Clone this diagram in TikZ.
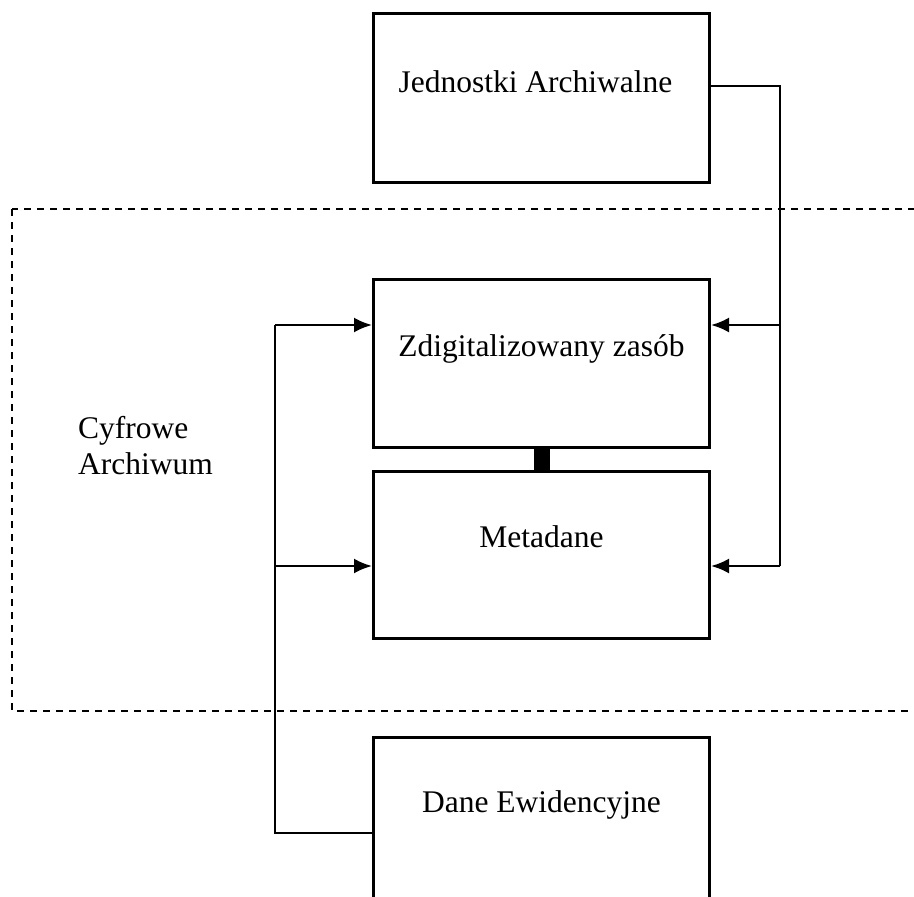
\documentclass[tikz,border=0pt]{standalone}
\usepackage{fontspec}
\setmainfont{Liberation Serif}
\usetikzlibrary{positioning,arrows.meta}
\tikzstyle{archbox}=[rectangle, draw=black, line width=3pt, minimum width=336pt, inner sep=0pt,
text centered, font=\fontsize{31.5}{36}\selectfont]
\tikzstyle{line}=[-, line width=2.5pt]
\tikzstyle{aline}=[-{Latex[length=18pt,width=15pt]}, line width=2.5pt]
\tikzstyle{frame}=[dash pattern=on 7pt off 6pt, line width=2.5pt]

\begin{document}
\begin{tikzpicture}[x=1pt, y=-1pt]

    \clip (0,0) rectangle (914,897);

    \node (jedn) [archbox, anchor=north west, text height=79pt, text depth=90pt] at (372,12)
        {\hspace*{-12pt}Jednostki Archiwalne};
    \node (zasob) [archbox, anchor=north west, text height=77pt, text depth=91pt] at (372,278)
        {Zdigitalizowany zasób};
    \node (meta) [archbox, below=21pt of zasob, text height=76pt, text depth=91pt]
        {Metadane};
    \node (dane) [archbox, below=96pt of meta, text height=75pt, text depth=140pt]
        {Dane Ewidencyjne};

    \node (cyfr) [anchor=base west, align=left, inner sep=0pt, font=\fontsize{31.5}{36}\selectfont]
        at (78,474) {Cyfrowe\\Archiwum};

%frame of the digital archive
    \draw[frame] (12,209) rectangle (930,711);

%link between the two inner boxes
    \fill (zasob.south) ++(-8,0) rectangle ([xshift=8pt]meta.north);

    \coordinate (rturn) at (780,325);
    \coordinate (rend) at (780,566);
    \coordinate (lturn) at (275,325);
    \coordinate (lmid) at (275,566);

    \draw[line] ([yshift=12pt]jedn.east) -| (rend);
    \draw[aline] (rturn) -- (rturn -| zasob.east);
    \draw[aline] (rend) -- (rend -| meta.east);

    \draw[line] ([yshift=-97pt]dane.north west) -| (lturn);
    \draw[aline] (lturn) -- (lturn -| zasob.west);
    \draw[aline] (lmid) -- (lmid -| meta.west);

\end{tikzpicture}
\end{document}
